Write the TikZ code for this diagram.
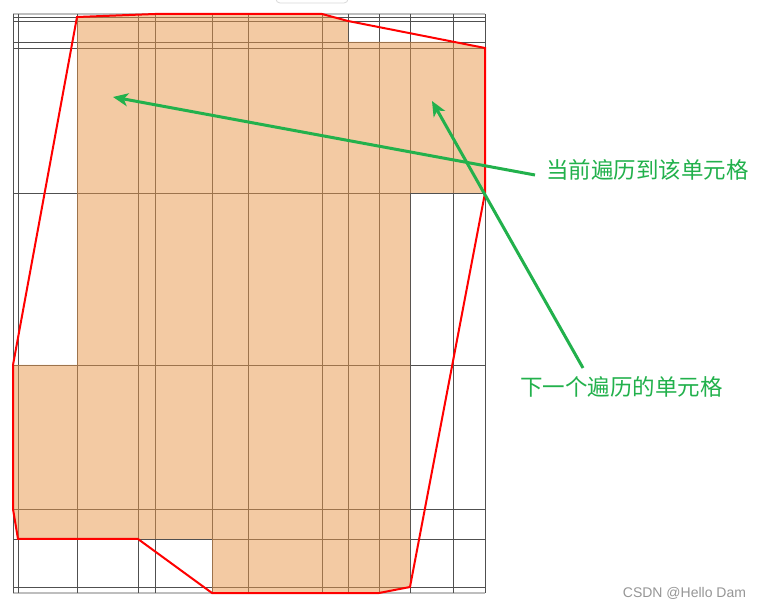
\documentclass[tikz,border=0pt]{standalone}
\usepackage{fontspec}
\newfontfamily\cjk{Noto Sans CJK SC}
\newfontfamily\wmfont{Liberation Sans}
\usetikzlibrary{arrows.meta}
\definecolor{gridc}{RGB}{80,80,80}
\definecolor{borderc}{RGB}{190,190,190}
\definecolor{cellc}{RGB}{233,151,73}
\definecolor{hullc}{RGB}{255,0,0}
\definecolor{notec}{RGB}{34,177,76}
\definecolor{wmc}{RGB}{150,150,150}
\tikzset{
  gridline/.style={draw=gridc, line width=0.8pt},
  borderline/.style={draw=borderc, line width=2pt},
  cellfill/.style={fill=cellc, fill opacity=0.5},
  hull/.style={draw=hullc, line width=2pt, line join=miter},
  pointer/.style={draw=notec, line width=3pt, -{Stealth[length=15pt,width=13pt,inset=4pt]}},
  note/.style={text=notec, font=\cjk\fontsize{22.5pt}{24pt}\selectfont, inner sep=0pt},
}
\begin{document}
\begin{tikzpicture}[x=1pt,y=-1pt]
\useasboundingbox (0,0) rectangle (761,609);
\fill[white] (0,0) rectangle (761,609);
% tab artefact at top
\draw[draw=black!15, line width=0.8pt, rounded corners=4pt] (276,-10) rectangle (348,3);
% grid
\draw[borderline] (13,14) -- (485,14);
\draw[borderline] (13,593) -- (485,593);
\foreach \yy in {17,21,42,48,193,365,509,539,587} {
  \draw[gridline] (13,\yy) -- (485,\yy);
}
\foreach \xx in {13,18,77,138,155,212,248,322,348,379,410,453,485} {
  \draw[gridline] (\xx,14) -- (\xx,593);
}
% hull corner coordinates
\coordinate (p1) at (77,17);
\coordinate (p2) at (155,14);
\coordinate (p3) at (322,14);
\coordinate (p4) at (348,21);
\coordinate (p5) at (485,48);
\coordinate (p6) at (485,193);
\coordinate (p7) at (410,587);
\coordinate (p8) at (379,593);
\coordinate (p9) at (212,593);
\coordinate (p10) at (138,539);
\coordinate (p11) at (18,539);
\coordinate (p12) at (13,509);
\coordinate (p13) at (13,365);
% visited cells (clipped by hull)
\begin{scope}
  \clip (p1) -- (p2) -- (p3) -- (p4) -- (p5) -- (p6) -- (p7) -- (p8) -- (p9) -- (p10) -- (p11) -- (p12) -- (p13) -- cycle;
  \fill[cellfill] (77,14) -- (348,14) -- (348,42) -- (485,42) -- (485,193) -- (410,193)
     -- (410,593) -- (212,593) -- (212,539) -- (13,539) -- (13,365) -- (77,365) -- cycle;
\end{scope}
% hull
\draw[hull] (p1) -- (p2) -- (p3) -- (p4) -- (p5) -- (p6) -- (p7) -- (p8) -- (p9) -- (p10) -- (p11) -- (p12) -- (p13) -- cycle;
% notes
\node[note] (cur) at (647.5,170) {当前遍历到该单元格};
\node[note] (nxt) at (621.5,387) {下一个遍历的单元格};
\coordinate (curtail) at (535,175);
\coordinate (curtip) at (113,97);
\coordinate (nxttail) at (583,368);
\coordinate (nxttip) at (432,101);
\draw[pointer] (curtail) -- (curtip);
\draw[pointer] (nxttail) -- (nxttip);
% watermark
\node[text=wmc, font=\wmfont\fontsize{14pt}{16pt}\selectfont, inner sep=0pt] (wm) at (684.5,593) {CSDN @Hello Dam};
\end{tikzpicture}
\end{document}
